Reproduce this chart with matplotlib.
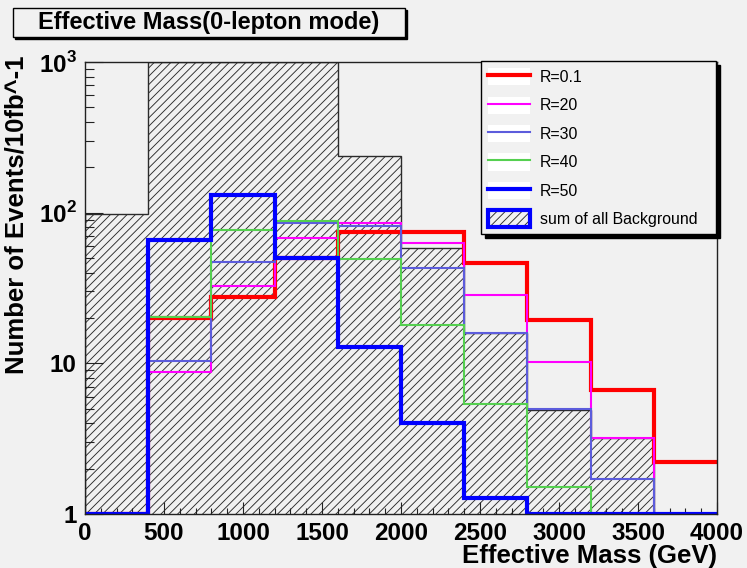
import numpy as np
import matplotlib.pyplot as plt
from matplotlib.patches import Patch, Rectangle
from matplotlib.lines import Line2D
from matplotlib.ticker import MultipleLocator, FixedLocator, FuncFormatter

plt.rcParams['font.family'] = ['Liberation Sans', 'DejaVu Sans']
plt.rcParams['hatch.linewidth'] = 0.65
plt.rcParams['mathtext.fontset'] = 'custom'
plt.rcParams['mathtext.rm'] = 'Liberation Sans:bold'
plt.rcParams['mathtext.bf'] = 'Liberation Sans:bold'

# effective mass bins, 400 GeV wide
bin_edges = np.arange(0, 4001, 400)

# events / 10 fb^-1 (0 = empty bin)
background = [98, 1000, 1000, 1000, 238, 58, 16, 4.9, 3.2, 0]
r01 = [0, 20, 27.5, 50, 74, 74, 46, 19.4, 6.7, 2.2]
r20 = [0, 8.7, 32.6, 68, 86, 63, 28.4, 10.2, 3.2, 0]
r30 = [0, 10.4, 47, 85, 81, 43, 15.9, 5.0, 1.7, 0]
r40 = [0, 20.3, 77, 88, 49, 18, 5.4, 1.5, 0, 0]
r50 = [0, 66, 131, 50, 12.8, 4.0, 1.28, 0, 0, 0]

labels = ["R=0.1", "R=20", "R=30", "R=40", "R=50"]
colors = ["#ff0000", "#ff00ff", "#5c5cdc", "#55d050", "#0000ff"]
widths = [3.0, 1.5, 1.5, 1.5, 3.0]

bg = '#f1f1f1'
fig = plt.figure(figsize=(7.47, 5.68), dpi=100, facecolor=bg)
ax = fig.add_axes([85 / 747, 1 - 514 / 568, 632 / 747, 452 / 568])
ax.set_facecolor(bg)

ymin = 1
ax.stairs(np.clip(background, ymin, None), bin_edges, baseline=ymin, fill=True,
          facecolor='none', edgecolor='#2b2b2b', hatch='////', linewidth=1.0, zorder=1)

for vals, c, lw in zip([r01, r20, r30, r40, r50], colors, widths):
    ax.stairs(np.clip(vals, ymin, None), bin_edges, baseline=None,
              color=c, linewidth=lw, zorder=2)

ax.set_yscale('log')
ax.set_ylim(ymin, 1000)
ax.set_xlim(0, 4000)

ax.xaxis.set_major_locator(MultipleLocator(500))
ax.xaxis.set_minor_locator(MultipleLocator(100))
ax.yaxis.set_major_locator(FixedLocator([1, 10, 100, 1000]))
ylabels = {1: '1', 10: '10', 100: r'$10^{2}$', 1000: r'$10^{3}$'}
ax.yaxis.set_major_formatter(FuncFormatter(lambda v, p: ylabels.get(int(round(v)), '')))

ax.tick_params(which='both', direction='in', top=False, right=False, color='#222222')
ax.tick_params(axis='y', which='major', length=13, width=0.8, pad=6)
ax.tick_params(axis='y', which='minor', length=6.5, width=0.8)
ax.tick_params(axis='x', which='major', length=9, width=0.8, pad=6)
ax.tick_params(axis='x', which='minor', length=4.5, width=0.8)
for t in ax.get_xticklabels() + ax.get_yticklabels():
    t.set_fontsize(17.5)
    t.set_fontweight('bold')
for s in ax.spines.values():
    s.set_color('#222222')
    s.set_linewidth(1.0)

# legend
handles = [(Patch(facecolor='white', edgecolor='none'), Line2D([], [], color=c, lw=lw))
           for c, lw in zip(colors, widths)]
handles.append((Patch(facecolor='none', edgecolor='#2b2b2b', hatch='////', lw=0),
                Patch(facecolor='none', edgecolor='#0000ff', lw=3)))
leg = ax.legend(handles, labels + ["sum of all Background"], loc='upper left',
                bbox_to_anchor=((481 - 85) / 632, 0, 235 / 632, 1.002), mode='expand',
                borderaxespad=0, fontsize=11.4,
                handlelength=2.65, handleheight=1.3, handletextpad=0.6,
                labelspacing=0.7, borderpad=0.45, fancybox=False,
                shadow={'ox': 3, 'oy': -3, 'facecolor': 'black', 'edgecolor': 'black', 'alpha': 1})
leg.get_frame().set_edgecolor('black')
leg.get_frame().set_facecolor(bg)
leg.get_frame().set_alpha(1)
leg.get_frame().set_linewidth(1.0)

# title box with shadow
x0, y0, w, h = 13 / 747, 1 - 37 / 568, 392 / 747, 29 / 568
fig.patches.append(Rectangle((x0 + 2 / 747, y0 - 2 / 568), w, h, transform=fig.transFigure,
                             facecolor='black', edgecolor='black', zorder=1))
fig.patches.append(Rectangle((x0, y0), w, h, transform=fig.transFigure,
                             facecolor=bg, edgecolor='black', linewidth=1.0, zorder=2))
fig.text(x0 + w / 2, y0 + h / 2, "Effective Mass(0-lepton mode)", ha='center', va='center',
         fontsize=17, fontweight='bold', zorder=3)

fig.text(717 / 747, 1 - 563 / 568, "Effective Mass (GeV)", ha='right', va='baseline',
         fontsize=18.5, fontweight='bold')
fig.text(17 / 747, 1 - 55 / 568, "Number of Events/10fb^-1", ha='center', va='top',
         rotation=90, fontsize=18.5, fontweight='bold')

fig.savefig('out.png', dpi=100, facecolor=bg)
